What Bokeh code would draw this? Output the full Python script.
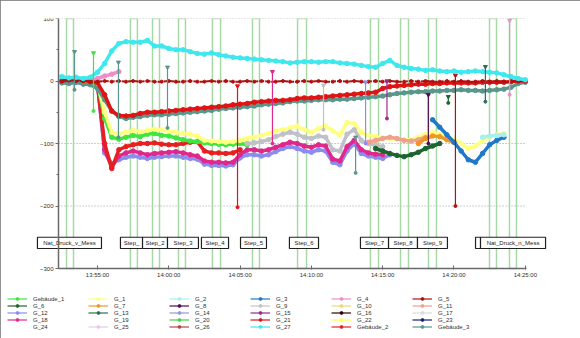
import math
from bokeh.plotting import figure
from bokeh.models import Range1d, FixedTicker, Legend, LegendItem, ColumnDataSource
from bokeh.embed import file_html
from bokeh.resources import INLINE
from bokeh.core.properties import value

FONT = "Liberation Sans"

# time in minutes after 13:50:00
T = [2.5, 3.0, 3.5, 4.0, 4.5, 5.0, 5.5, 6.0, 6.5, 7.0,
     7.5, 8.0, 8.5, 9.0, 9.5, 10.0, 10.5, 11.0, 11.5, 12.0,
     12.5, 13.0, 13.5, 14.0, 14.5, 15.0, 15.5, 16.0, 16.5, 17.0,
     17.5, 18.0, 18.5, 19.0, 19.5, 20.0, 20.5, 21.0, 21.5, 22.0,
     22.5, 23.0, 23.5, 24.0, 24.5, 25.0, 25.5, 26.0, 26.5, 27.0,
     27.5, 28.0, 28.5, 29.0, 29.5, 30.0, 30.5, 31.0, 31.5, 32.0,
     32.5, 33.0, 33.5, 34.0, 34.5, 35.0]

X_TICKS = [5, 10, 15, 20, 25, 30, 35]
X_LABELS = ["13:55:00", "14:00:00", "14:05:00", "14:10:00", "14:15:00", "14:20:00", "14:25:00"]
Y_TICKS = [-300, -200, -100, 0, 100]
Y_MINOR = [-250, -150, -50, 50]
Y_MIN, Y_MAX = -300, 100
GRID_Y = [-200, -100, 100]
X_AXIS_START, X_AXIS_END = 2.27, 35.05

# step windows (green rectangles)
STEP_L = [2.83, 7.31, 8.86, 10.68, 13.06, 15.87, 19.03, 24.14, 26.25, 28.21, 32.49, 33.89]
STEP_R = [3.32, 7.80, 9.35, 11.17, 13.63, 16.36, 19.66, 24.71, 26.81, 28.77, 32.98, 34.38]

# step label boxes
LAB_L = [0.79, 6.61, 8.16, 9.91, 12.29, 15.03, 18.46, 23.44, 25.41, 27.44, 31.51, 31.86]
LAB_R = [5.28, 8.16, 9.91, 12.08, 14.19, 16.85, 20.50, 25.41, 27.44, 29.54, 31.86, 36.42]
LAB_TXT = ["Nat_Druck_v_Mess", "Step_", "Step_2", "Step_3", "Step_4", "Step_5", "Step_6",
           "Step_7", "Step_8", "Step_9", "", "Nat_Druck_n_Mess"]

# series: start time, values
G_27 = [7, 5, 6, 4, 6, 14, 28, 48, 60, 63,
        62, 62, 65, 56, 56, 52, 50, 50, 47, 44,
        43, 45, 42, 40, 38, 37, 36, 35, 34, 33,
        32, 31, 29, 30, 31, 31, 30, 31, 31, 29,
        28, 27, 25, 23, 22, 28, 33, 25, 22, 20,
        19, 17, 18, 16, 15, 16, 14, 15, 16, 15,
        14, 13, 10, 7, 4, 2]
G_21 = [0, 2, 3, 1, -1, -3, -22, -48, -55, -56,
        -55, -52, -50, -50, -49, -48, -47, -46, -45, -44,
        -43, -42, -41, -40, -38, -37, -36, -34, -33, -32,
        -31, -31, -30, -28, -27, -27, -26, -25, -24, -23,
        -22, -21, -20, -19, -18, -12, -9, -8, -7, -6,
        -5, -5, -4, -4, -3, -3, -3, -3, -3, -2,
        -2, -2, -2, -1, 0, 0]
GEB_3 = [-3, -4, -2, -5, -6, -12, -30, -48, -57, -60,
         -58, -57, -55, -54, -54, -53, -52, -51, -50, -49,
         -48, -47, -45, -44, -43, -42, -41, -40, -38, -37,
         -36, -35, -33, -32, -32, -31, -30, -30, -30, -29,
         -29, -28, -27, -26, -25, -24, -22, -20, -19, -18,
         -17, -17, -16, -16, -15, -15, -14, -15, -15, -16,
         -15, -14, -13, -10, -4, -2]
G_5 = [0, 1, 0, 0, -1, -1, 0, -1, 0, -1,
       0, -1, 0, -1, -1, 0, -1, -1, 0, -1,
       -1, 0, -1, 0, -1, -1, 0, -1, 0, -1,
       -1, 0, -1, -1, 0, -1, 0, -1, -1, 0,
       -1, 0, -1, -1, 0, -1, 0, -1, -1, 0,
       -1, 0, -1, -1, 0, -1, 0, -1, -1, 0,
       -1, 0, -1, -1, 0, 0]
GEB_1 = [0, 1, 0, -1, -2, -4, -60, -90, -93, -90,
         -87, -89, -85, -84, -87, -88, -91, -94, -96, -97,
         -99, -100, -101, -102, -101, -100, -102]
G_1 = [0, 0, 0, 0, -1, -3, -50, -82, -84, -82,
       -79, -81, -79, -77, -78, -80, -82, -84, -85, -88,
       -95, -96, -97, -98, -97, -95, -92, -90, -87, -84,
       -80, -78, -75, -72, -78, -82, -76, -72, -80, -86,
       -66, -68, -82, -87, -89, -91, -92, -93, -94, -94,
       -90, -86, -82, -86, -90, -93, -100, -108, -104, -96,
       -90, -86, -84]
GEB_2 = [0, 1, 0, -1, -2, -5, -100, -140, -110, -105,
         -102, -100, -100, -99, -101, -102, -102, -100, -98, -97,
         -112, -115, -115, -116, -115, -110]
G_18 = [0, 0, 0, -1, -2, -5, -110, -138, -120, -115,
        -112, -115, -118, -116, -115, -114, -113, -115, -118, -120,
        -128, -130, -130, -131, -130, -118, -110, -110, -112, -110,
        -106, -102, -98, -100, -104, -106, -102, -104, -125, -128,
        -105, -95, -110, -115, -117, -118]
G_12 = [0, 0, -1, -1, -2, -5, -115, -132, -126, -122,
        -120, -122, -124, -122, -121, -120, -120, -122, -124, -125,
        -133, -135, -135, -136, -134, -123, -118, -118, -120, -118,
        -113, -108, -105, -108, -112, -114, -110, -112, -130, -134,
        -112, -100, -116, -120, -122, -124, -118]
G_9 = [-100, -99, -97, -94, -89, -85, -82, -85, -90, -92,
       -88, -90, -110, -112, -85, -78, -95, -100, -103, -105]
G_6 = [-108, -112, -116, -119, -121, -118, -114, -108, -104, -100]
G_11 = [-98, -95, -92, -90, -92, -95, -96, -94, -90]
G_7 = [-100, -92, -88, -89, -94, -98]
G_3 = [-62, -74, -86, -98, -112, -126, -130, -116, -102, -95, -90]
G_2 = [-90, -88, -87, -86]
G_4 = [0, 4, 8, 11, 15]

SERIES = {
    "G_12": (2.5, G_12), "G_18": (2.5, G_18), "Gebäude_2": (2.5, GEB_2),
    "Gebäude_1": (2.5, GEB_1), "G_1": (2.5, G_1), "G_9": (15.5, G_9),
    "G_6": (24.5, G_6), "G_11": (24.0, G_11), "G_7": (27.5, G_7),
    "G_3": (28.5, G_3), "G_2": (32.0, G_2), "G_4": (4.5, G_4),
    "Gebäude_3": (2.5, GEB_3), "G_21": (2.5, G_21), "G_5": (2.5, G_5),
    "G_27": (2.5, G_27),
}

# single-sample spikes: time, top, bottom, series
SPIKE_T = [3.39, 4.72, 6.47, 9.91, 14.82, 17.27, 20.85, 23.1, 23.8, 25.3, 28.2, 29.6, 30.1, 32.2, 33.9]
SPIKE_TOP = [47, 45, 30, 22, -8, 15, -7, -90, -2, 0, -22, -25, 9, 23, 97]
SPIKE_BOT = [-14, -48, -90, -75, -202, -100, -78, -147, -100, -60, -100, -35, -200, -33, -22]
SPIKE_SER = ["Gebäude_3", "Gebäude_1", "Gebäude_3", "Gebäude_3", "G_21", "G_18", "G_9",
             "Gebäude_3", "G_12", "G_15", "G_8", "G_6", "G_5", "G_13", "G_4"]

NAMES = ["Gebäude_1", "G_1", "G_2", "G_3", "G_4", "G_5",
         "G_6", "G_7", "G_8", "G_9", "G_10", "G_11",
         "G_12", "G_13", "G_14", "G_15", "G_16", "G_17",
         "G_18", "G_19", "G_20", "G_21", "G_22", "G_23",
         "G_24", "G_25", "G_26", "G_27", "Gebäude_2", "Gebäude_3"]
COLORS = {
    "Gebäude_1": "#3ee63e", "G_1": "#ffff80", "G_2": "#a8f0f0", "G_3": "#1f78c8",
    "G_4": "#f08cc8", "G_5": "#b01010", "G_6": "#1e6430", "G_7": "#f09628",
    "G_8": "#500a50", "G_9": "#c0c0c8", "G_10": "#e8dc78", "G_11": "#f0a08c",
    "G_12": "#8c8cf0", "G_13": "#2a6e5a", "G_14": "#9696dc", "G_15": "#a0288c",
    "G_16": "#320000", "G_17": "#dcdcdc", "G_18": "#e0288c", "G_19": "#ffffff",
    "G_20": "#46d246", "G_21": "#e01414", "G_22": "#ffff50", "G_23": "#1e1e78",
    "G_24": "#ffffff", "G_25": "#e6c8ec", "G_26": "#b44646", "G_27": "#3ee8ee",
    "Gebäude_2": "#e62020", "Gebäude_3": "#5a968c",
}
DRAW_ORDER = ["G_12", "G_18", "Gebäude_2", "Gebäude_1", "G_1", "G_9", "G_11", "G_6",
              "G_7", "G_3", "G_2", "G_4", "Gebäude_3", "G_21", "G_5", "G_27"]

# frame spans the whole page; axes sit at fixed positions inside it
p = figure(width=580, height=338, output_backend="svg", toolbar_location=None,
           x_range=Range1d(-1.52, 38.59), y_range=Range1d(-405.6, 100),
           min_border_left=4, min_border_right=4, min_border_top=18, min_border_bottom=4,
           background_fill_color="white", border_fill_color="white")
p.styles = {"outline": "2px solid #6e6e6e", "outline-offset": "-2px"}
p.outline_line_color = None
p.xgrid.visible = False
p.ygrid.visible = False

# axes
xa = p.xaxis[0]
xa.ticker = FixedTicker(ticks=X_TICKS, minor_ticks=[])
xa.major_label_overrides = {t: s for t, s in zip(X_TICKS, X_LABELS)}
xa.bounds = (X_AXIS_START, X_AXIS_END)
xa.fixed_location = Y_MIN
ya = p.yaxis[0]
ya.ticker = FixedTicker(ticks=Y_TICKS, minor_ticks=Y_MINOR)
ya.fixed_location = X_AXIS_START
ya.bounds = (Y_MIN, Y_MAX)
for ax in (xa, ya):
    ax.axis_line_color = "#6a6a6a"
    ax.axis_line_width = 1.5
    ax.major_tick_line_color = "#6a6a6a"
    ax.minor_tick_line_color = "#6a6a6a"
    ax.major_label_text_font = FONT
    ax.major_label_text_font_size = "6px"
    ax.major_label_text_color = "#303030"
    ax.major_label_standoff = 2
xa.major_tick_in = 3
xa.major_tick_out = 1
ya.major_tick_in = 0
ya.major_tick_out = 3
ya.minor_tick_in = 0
ya.minor_tick_out = 2

# grid lines
p.segment(x0=[X_AXIS_START] * len(GRID_Y), x1=[X_AXIS_END] * len(GRID_Y), y0=GRID_Y, y1=GRID_Y,
          line_color="#a0a0a0", line_width=1, line_dash="1 2")

# green step rectangles
p.quad(left=STEP_L, right=STEP_R, top=[Y_MAX] * len(STEP_L), bottom=[Y_MIN] * len(STEP_L),
       fill_alpha=0, line_color="#a6d9a6", line_width=1.5)

# data series
for name in DRAW_ORDER:
    t0, vals = SERIES[name]
    i0 = T.index(t0)
    src = ColumnDataSource(dict(x=T[i0:i0 + len(vals)],
                                y=[math.nan if v is None else v for v in vals]))
    if name == "G_5":
        p.line("x", "y", source=src, line_color=COLORS[name], line_width=2, line_dash="5 1")
        p.scatter("x", "y", source=src, color=COLORS[name], size=3)
    else:
        p.line("x", "y", source=src, line_color=COLORS[name], line_width=3.5)
        p.scatter("x", "y", source=src, color=COLORS[name], size=4.5)

# spikes
sp_col = [COLORS[s] for s in SPIKE_SER]
p.segment(x0=SPIKE_T, x1=SPIKE_T, y0=SPIKE_TOP, y1=SPIKE_BOT, line_color=sp_col, line_width=1.2)
p.scatter(SPIKE_T, SPIKE_TOP, marker="inverted_triangle", size=4, color=sp_col)
p.scatter(SPIKE_T, SPIKE_BOT, marker="circle", size=3, color=sp_col)

# step label boxes
n = len(LAB_L)
p.quad(left=LAB_L, right=LAB_R, top=[-250] * n, bottom=[-268] * n,
       fill_color="white", line_color="#202020", line_width=1.2)
p.text(x=[(a + b) / 2 for a, b in zip(LAB_L, LAB_R)], y=[-259] * n, text=LAB_TXT,
       text_font=value(FONT), text_font_size="6px", text_color="#202020",
       text_align="center", text_baseline="middle")

# legend (thin glyphs like the original); one invisible NaN point each
items = []
for name in NAMES:
    lsrc = ColumnDataSource(dict(x=[math.nan], y=[math.nan]))
    ln = p.line("x", "y", source=lsrc, line_color=COLORS[name], line_width=1.2)
    sc = p.scatter("x", "y", source=lsrc, color=COLORS[name], size=4)
    items.append(LegendItem(label=name, renderers=[ln, sc]))
legend = Legend(items=items, location=(3, 4), ncols=6, orientation="horizontal",
                glyph_width=20, glyph_height=7, label_height=7, label_width=55,
                label_standoff=6, spacing=0, padding=0, margin=0,
                border_line_color=None, background_fill_alpha=0,
                label_text_font=FONT, label_text_font_size="6px",
                label_text_color="#303030", label_text_baseline="middle")
p.add_layout(legend)

open("out.html", "w").write(file_html(p, INLINE))
